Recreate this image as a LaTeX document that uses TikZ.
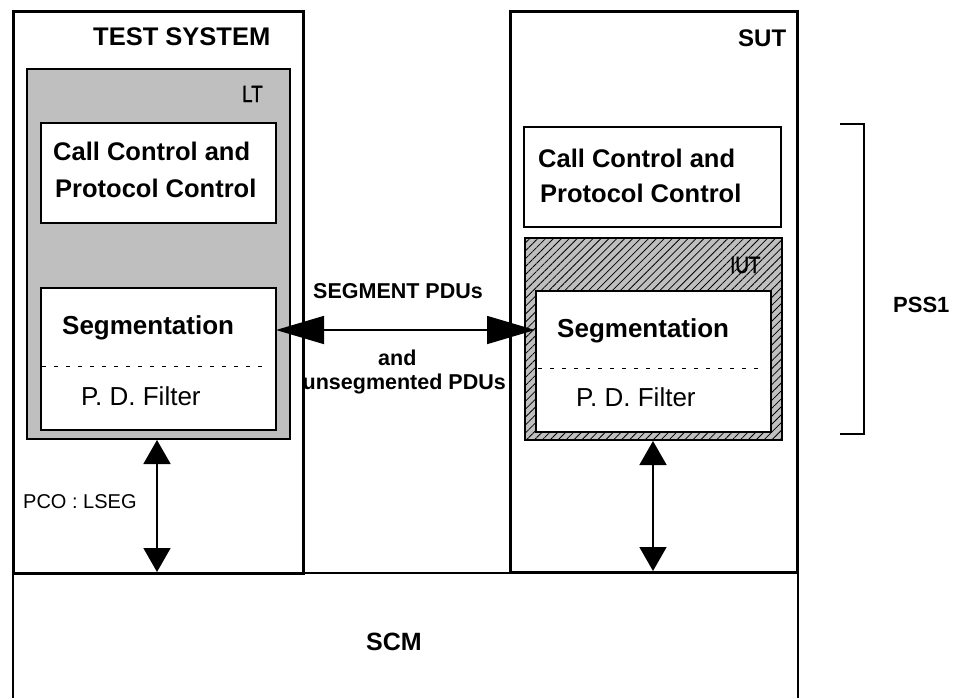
\documentclass[tikz,border=0pt]{standalone}
\usepackage{fontspec}
\setmainfont{Liberation Sans}
\newfontfamily\medfont[FakeBold=1.2]{Liberation Sans}
\usetikzlibrary{arrows.meta,patterns.meta}
\begin{document}
\begin{tikzpicture}[x=1pt,y=-1pt,
  txt/.style={anchor=base west,inner sep=0pt,font=\fontsize{25.5}{30}\selectfont\bfseries},
  segt/.style={anchor=base west,inner sep=0pt,font=\fontsize{26}{30}\selectfont\bfseries},
  txtr/.style={anchor=base west,inner sep=0pt,font=\fontsize{26}{30}\selectfont},
  tag/.style={anchor=base west,inner sep=0pt,font=\medfont\fontsize{23.5}{27}\selectfont,xscale=0.8},
  small/.style={anchor=base west,inner sep=0pt,font=\fontsize{21.5}{25}\selectfont\bfseries},
  outer/.style={draw,line width=3pt},
  inner/.style={draw,line width=1.8pt},
  dsh/.style={draw,line width=0.6pt,dash pattern=on 4pt off 8pt},
  harrow/.style={line width=1.6pt,{Triangle[length=48pt,width=28pt]}-{Triangle[length=48pt,width=28pt]}},
  varrow/.style={line width=1.6pt,{Triangle[length=24pt,width=27pt]}-{Triangle[length=24pt,width=27pt]}}
]
\useasboundingbox (0,0) rectangle (954,697);
\fill[white] (0,0) rectangle (954,697);
% SCM
\draw[line width=1.5pt] (13,700) -- (13,573) -- (798,573) -- (798,700);
\node[anchor=base,inner sep=0pt,font=\fontsize{25}{30}\selectfont\bfseries] (scm) at (394,650) {SCM};
% TEST SYSTEM
\draw[outer,fill=white] (13,11) rectangle (303,573);
\node[txt] (ts) at (93,45) {TEST SYSTEM};
\draw[inner,fill=black!25] (27,69) rectangle (290,439);
\node[tag,transform shape] (lt) at (242,102) {LT};
\draw[inner,fill=white] (41,123) rectangle (276,223);
\node[txt] (cc1) at (53,160) {Call Control and};
\node[txt] (cc2) at (55,197) {Protocol Control};
\draw[inner,fill=white] (41,288) rectangle (276,430);
\coordinate (segL) at (276,330);
\node[segt] (seg1) at (62,334) {Segmentation};
\draw[dsh] (42,366) -- (262,366);
\node[txtr] (pd1) at (81,405) {P. D. Filter};
\coordinate (ltB) at (157,440);
\coordinate (scmL) at (157,572);
% SUT
\draw[outer,fill=white] (510,11) rectangle (797,572);
\node[anchor=base west,inner sep=0pt,font=\fontsize{24}{28}\selectfont\bfseries] (sut) at (738,46) {SUT};
\draw[inner,fill=white] (524,127) rectangle (781,227);
\node[txt] (cc3) at (538,167) {Call Control and};
\node[txt] (cc4) at (540,202) {Protocol Control};
\draw[inner,fill=black!25,postaction={pattern={Lines[angle=45,distance=5.6pt,line width=0.8pt]}}] (525,238) rectangle (782,440);
\node[tag,transform shape] (iut) at (730,273) {IUT};
\draw[line width=2.4pt,fill=white] (536,291) rectangle (771,432);
\coordinate (segR) at (535,330);
\node[segt] (seg2) at (557,337) {Segmentation};
\draw[dsh] (538,368) -- (762,368);
\node[txtr] (pd2) at (576,406) {P. D. Filter};
\coordinate (iutB) at (653,441);
\coordinate (scmR) at (653,571);
% arrows
\draw[harrow] (segL) -- (segR);
\draw[varrow] (ltB) -- (scmL);
\draw[varrow] (iutB) -- (scmR);
% labels
\node[small] (sp) at (313,298) {SEGMENT PDUs};
\node[small] (and) at (378,365) {and};
\node[small,anchor=base east] (un) at (506,389) {unsegmented PDUs};
\node[anchor=base west,inner sep=0pt,font=\fontsize{20}{24}\selectfont] (pco) at (23,508) {PCO : LSEG};
% PSS1 bracket
\coordinate (bt) at (840,124);
\coordinate (bb) at (840,434);
\draw[line width=1.5pt] (bt) -- ++(24,0) |- (bb);
\node[anchor=base west,inner sep=0pt,font=\fontsize{22}{26}\selectfont\bfseries] (pss) at (893,312) {PSS1};
\end{tikzpicture}
\end{document}
